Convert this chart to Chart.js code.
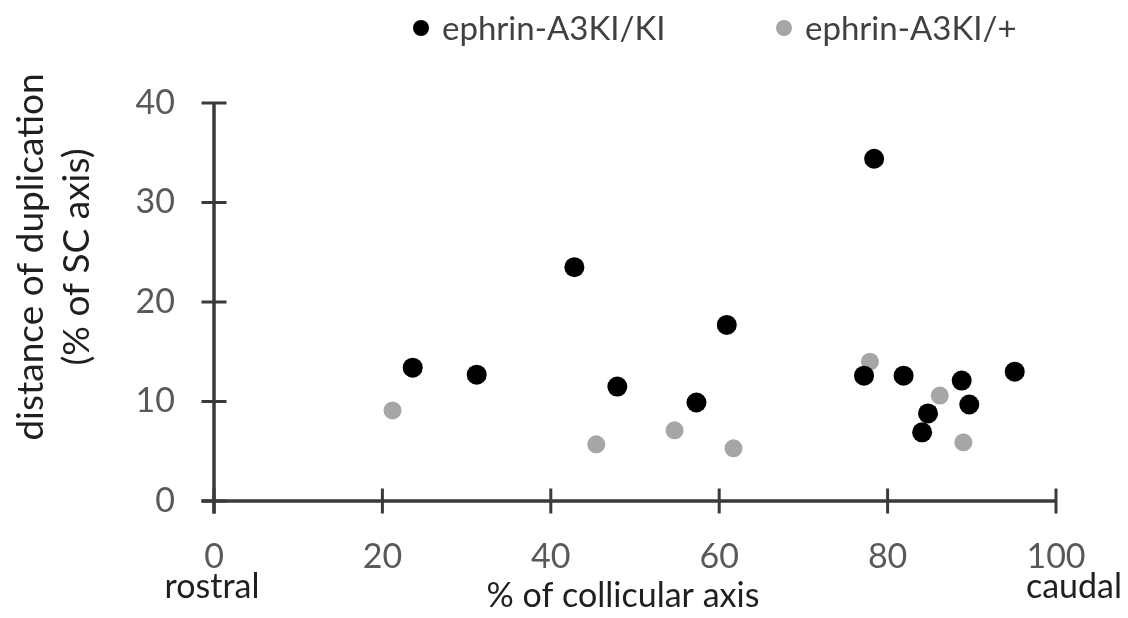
<!DOCTYPE html>
<html>
<head>
<meta charset="utf-8">
<title>Duplication distance along the collicular axis</title>
<script src="https://cdn.jsdelivr.net/npm/chart.js@4.4.1/dist/chart.umd.min.js"></script>
<style>
  html, body { margin: 0; padding: 0; background: #ffffff; }
  #wrap { width: 1128px; height: 618px; }
</style>
</head>
<body>
<div id="wrap"><canvas id="duplicationChart" width="1128" height="618"></canvas></div>
<script>
// values (x = % of collicular axis, y = % of SC axis)
const kiKiX = [23.6, 31.2, 42.8, 47.9, 57.3, 60.9, 78.4, 77.2, 81.9, 84.8, 84.1, 88.8, 89.7, 95.1];
const kiKiY = [13.4, 12.7, 23.5, 11.5, 9.9, 17.7, 34.4, 12.6, 12.6, 8.8, 6.9, 12.1, 9.7, 13.0];
const kiHetX = [21.2, 45.4, 54.7, 61.7, 77.9, 86.2, 89.0];
const kiHetY = [9.1, 5.7, 7.1, 5.3, 14.0, 10.6, 5.9];

const seriesLabels = ["ephrin-A3KI/KI", "ephrin-A3KI/+"];
const seriesColors = ["#000000", "#a6a6a6"];
const xTickValues = [0, 20, 40, 60, 80, 100];
const yTickValues = [0, 10, 20, 30, 40];
const xEndLabels = ["rostral", "caudal"];
const xTitle = "% of collicular axis";
const yTitleLines = ["distance of duplication", "(% of SC axis)"];

const FONT = "Lato, 'Open Sans', sans-serif";
const tickColor = "#595959";
const titleColor = "#1f1f1f";
const axisColor = "#3a3a3a";

function toPoints(xs, ys) {
  return xs.map((x, i) => ({ x: x, y: ys[i] }));
}

// Excel-style axes: lines with ticks crossing the axis
const crossAxesPlugin = {
  id: "crossAxes",
  beforeDatasetsDraw(chart) {
    const { ctx, scales: { x, y } } = chart;
    const x0 = x.getPixelForValue(0);
    const y0 = y.getPixelForValue(0);
    const half = 12.5;
    ctx.save();
    ctx.strokeStyle = axisColor;
    ctx.lineCap = "butt";
    ctx.lineWidth = 3.5;
    ctx.beginPath();
    ctx.moveTo(x0 - half, y0);
    ctx.lineTo(x.getPixelForValue(xTickValues[xTickValues.length - 1]), y0);
    ctx.moveTo(x0, y.getPixelForValue(yTickValues[yTickValues.length - 1]));
    ctx.lineTo(x0, y0 + half);
    ctx.stroke();

    ctx.lineWidth = 3;
    ctx.beginPath();
    xTickValues.forEach(v => {
      const px = x.getPixelForValue(v);
      ctx.moveTo(px, y0 - half);
      ctx.lineTo(px, y0 + half);
    });
    yTickValues.forEach(v => {
      const py = y.getPixelForValue(v);
      ctx.moveTo(x0 - half, py);
      ctx.lineTo(x0 + half, py);
    });
    ctx.stroke();
    ctx.restore();
  },
  afterDraw(chart) {
    const { ctx, chartArea, scales: { x } } = chart;
    ctx.save();

    // rostral / caudal under the end ticks, and the x title
    ctx.fillStyle = titleColor;
    ctx.font = "34px " + FONT;
    ctx.textAlign = "center";
    ctx.textBaseline = "alphabetic";
    ctx.fillText(xEndLabels[0], x.getPixelForValue(0) - 2, 598);
    ctx.fillText(xEndLabels[1], x.getPixelForValue(100) + 18, 598);
    ctx.fillText(xTitle, (chartArea.left + chartArea.right) / 2 - 12, 607);

    // rotated y title, two lines
    ctx.save();
    ctx.font = "37px " + FONT;
    ctx.translate(0, 257);
    ctx.rotate(-Math.PI / 2);
    ctx.fillText(yTitleLines[0], 0, 43);
    ctx.fillText(yTitleLines[1], 0, 89);
    ctx.restore();

    // legend across the top
    const legendItems = [
      { dotX: 421, textX: 442 },
      { dotX: 784, textX: 805 }
    ];
    ctx.textAlign = "left";
    ctx.font = "33px " + FONT;
    legendItems.forEach((item, i) => {
      ctx.fillStyle = seriesColors[i];
      ctx.beginPath();
      ctx.arc(item.dotX, 28, 8, 0, Math.PI * 2);
      ctx.fill();
      ctx.fillStyle = "#404040";
      ctx.fillText(seriesLabels[i], item.textX, 40);
    });
    ctx.restore();
  }
};

const ctx = document.getElementById("duplicationChart").getContext("2d");

new Chart(ctx, {
  type: "scatter",
  data: {
    datasets: [
      {
        label: seriesLabels[0],
        data: toPoints(kiKiX, kiKiY),
        backgroundColor: seriesColors[0],
        borderColor: seriesColors[0],
        borderWidth: 0,
        pointRadius: 10,
        pointHoverRadius: 10
      },
      {
        label: seriesLabels[1],
        data: toPoints(kiHetX, kiHetY),
        backgroundColor: seriesColors[1],
        borderColor: seriesColors[1],
        borderWidth: 0,
        pointRadius: 9,
        pointHoverRadius: 9
      }
    ]
  },
  options: {
    responsive: false,
    animation: false,
    events: [],
    layout: {
      padding: { left: 0, right: 72, top: 103, bottom: 0 }
    },
    plugins: {
      legend: { display: false },
      tooltip: { enabled: false }
    },
    scales: {
      x: {
        type: "linear",
        min: 0,
        max: 100,
        afterBuildTicks: scale => {
          scale.ticks = xTickValues.map(v => ({ value: v }));
        },
        afterFit: scale => {
          scale.height = 117;
        },
        grid: { display: false, drawTicks: false },
        border: { display: false },
        ticks: {
          color: tickColor,
          padding: 36,
          maxRotation: 0,
          font: { family: FONT, size: 34 }
        }
      },
      y: {
        type: "linear",
        min: 0,
        max: 40,
        afterBuildTicks: scale => {
          scale.ticks = yTickValues.map(v => ({ value: v }));
        },
        afterFit: scale => {
          scale.width = 214;
        },
        grid: { display: false, drawTicks: false },
        border: { display: false },
        ticks: {
          color: tickColor,
          padding: 39,
          font: { family: FONT, size: 34 }
        }
      }
    }
  },
  plugins: [crossAxesPlugin]
});
</script>
</body>
</html>
